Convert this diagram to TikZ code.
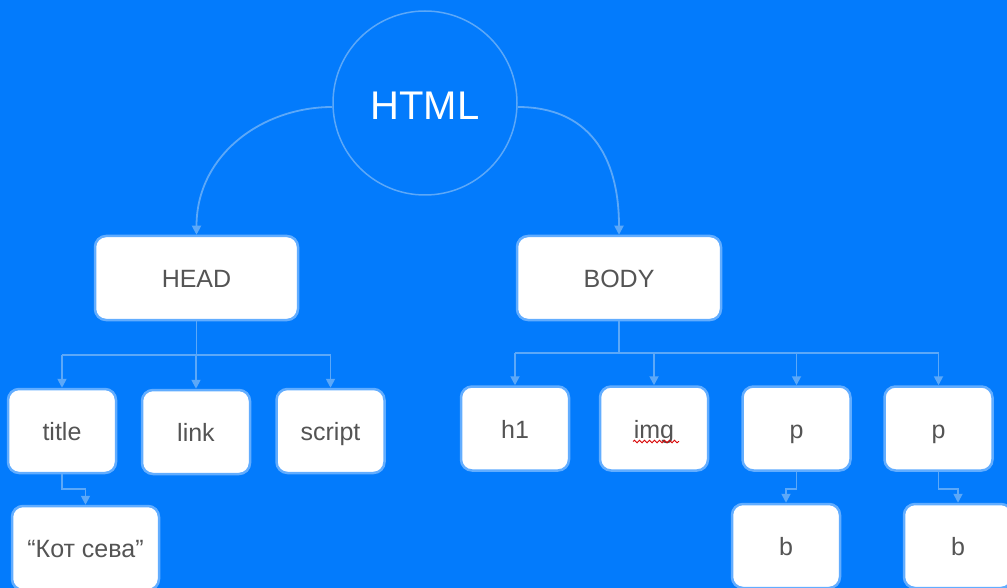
\documentclass[tikz,border=0pt]{standalone}
\usepackage{fontspec}
\setmainfont{Liberation Sans}
\usetikzlibrary{arrows.meta,decorations.pathmorphing}
\definecolor{bg}{HTML}{037BFC}
\definecolor{lineblue}{HTML}{5CA8F8}
\definecolor{boxborder}{HTML}{62ADFF}
\definecolor{textgrey}{HTML}{545454}
\tikzset{
  box/.style={draw=boxborder, line width=2.5pt, fill=white, rounded corners=11pt,
    minimum width=108pt, minimum height=84pt, text=textgrey, inner sep=0pt,
    font=\fontsize{25}{29}\selectfont, text height=24pt, text depth=5pt},
  conn/.style={draw=lineblue, line width=1.8pt},
  arr/.style={conn, -{Triangle[length=9pt,width=9pt]}},
}
\begin{document}
\begin{tikzpicture}[x=1pt,y=-1pt]
\fill[bg] (0,0) rectangle (1007,588);
\useasboundingbox (0,0) rectangle (1007,588);
\clip (0,0) rectangle (1007,588);

\node[circle, draw=lineblue, line width=1.5pt, minimum size=184pt, inner sep=0pt] (html) at (425,103) {};
\node[text=white, font=\fontsize{40}{46}\selectfont, inner sep=0pt, anchor=base] (htmltext) at (425,120) {HTML};

\node[box, minimum width=203pt] (head) at (196.5,278) {HEAD};
\node[box, minimum width=204pt] (body) at (619,278) {BODY};

\node[box] (title) at (62,431) {title};
\node[box] (link) at (196,432) {link};
\node[box] (script) at (330.5,431) {script};
\node[box, minimum width=147pt] (kot) at (85.5,548) {“Кот сева”};

\node[box] (h1) at (515,428.5) {h1};
\node[box] (img) at (654,428.5) {img};
\node[box] (p1) at (796.5,428.5) {p};
\node[box] (p2) at (938.5,428.5) {p};
\node[box] (b1) at (786,546) {b};
\node[box] (b2) at (958,546) {b};

% squiggle under img
\draw[red!85!black, line width=0.9pt, decorate,
  decoration={snake, amplitude=1.3pt, segment length=5pt}]
  ([xshift=-21pt,yshift=-13pt]img.center) -- ([xshift=25pt,yshift=-13pt]img.center);

% HTML to HEAD / BODY
\draw[arr] ([yshift=-4pt]html.west) .. controls +(-70,0) and +(0,-80) .. (head.north);
\draw[arr] ([yshift=-4pt]html.east) .. controls +(70,0) and +(0,-80) .. (body.north);

% HEAD children
\draw[conn] (head.south) -- ++(0,34) coordinate (hb);
\draw[conn] (hb -| title) -- (hb -| script);
\draw[arr] (hb -| title) -- (title.north);
\draw[arr] (hb -| link) -- (link.north);
\draw[arr] (hb -| script) -- (script.north);

% BODY children
\draw[conn] (body.south) -- ++(0,32) coordinate (bb);
\draw[conn] (bb -| h1) -- (bb -| p2);
\draw[arr] (bb -| h1) -- (h1.north);
\draw[arr] (bb -| img) -- (img.north);
\draw[arr] (bb -| p1) -- (p1.north);
\draw[arr] (bb -| p2) -- (p2.north);

% second level
\draw[arr] (title.south) -- ++(0,15) -| (kot.north);
\draw[arr] (p1.south) -- ++(0,17) -| (b1.north);
\draw[arr] (p2.south) -- ++(0,17) -| (b2.north);
\end{tikzpicture}
\end{document}
